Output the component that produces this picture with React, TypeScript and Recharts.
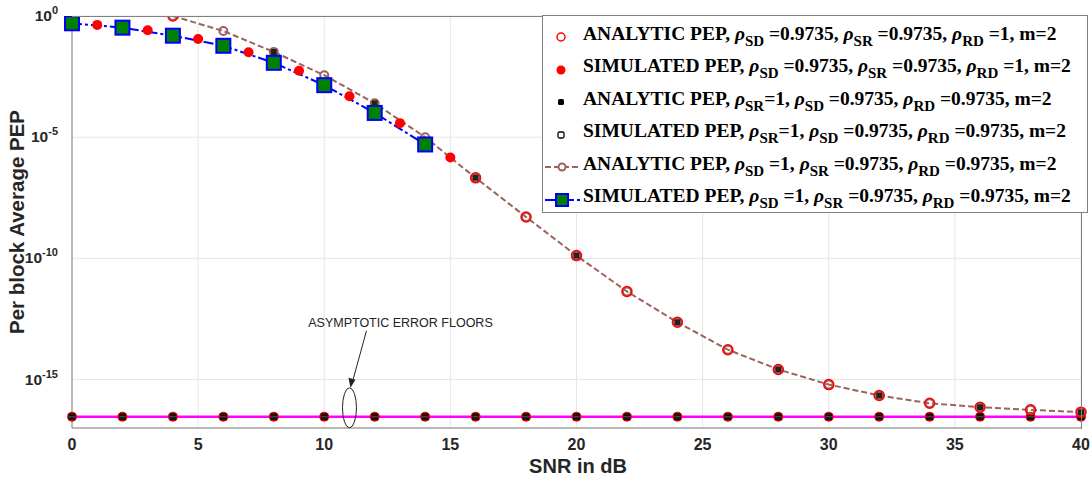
import React from 'react';
import { LineChart, Line, XAxis, YAxis, CartesianGrid, ReferenceDot } from 'recharts';

// SNR (dB) positions and PEP values
const brownSnr = [4, 6, 8, 10, 12, 14, 16, 18, 20, 22, 24, 26, 28, 30, 32, 34, 36, 38, 40];
const brownPep = [1, 0.24, 0.033, 3.6e-3, 2.5e-4, 1.0e-5, 2.1e-7, 5.1e-9, 1.3e-10, 4.3e-12, 2.3e-13, 1.7e-14, 2.6e-15, 6.2e-16, 2.2e-16, 1.05e-16, 7.2e-17, 5.6e-17, 4.5e-17];

const greenSnr = [0, 2, 4, 6, 8, 10, 12, 14];
const greenPep = [0.5, 0.33, 0.154, 0.059, 0.0117, 1.4e-3, 1.0e-4, 5.0e-6];

const redFilledSnr = [1, 3, 5, 7, 9, 11, 13, 15];
const redFilledPep = [0.43, 0.26, 0.112, 0.032, 5.5e-3, 4.9e-4, 3.8e-5, 1.45e-6];

const redOpenSnr = [4, 16, 18, 20, 22, 24, 26, 28, 30, 32, 34, 36, 38, 40];
const redOpenPep = [1, 2.1e-7, 5.1e-9, 1.3e-10, 4.3e-12, 2.3e-13, 1.7e-14, 2.6e-15, 6.2e-16, 2.2e-16, 1.05e-16, 7.2e-17, 5.6e-17, 4.5e-17];

const blackSnr = [8, 12, 16, 20, 24, 28, 32, 36, 40];
const blackPep = [0.033, 2.5e-4, 2.1e-7, 1.3e-10, 2.3e-13, 2.6e-15, 2.2e-16, 7.2e-17, 4.5e-17];

const floorSnr = [0, 2, 4, 6, 8, 10, 12, 14, 16, 18, 20, 22, 24, 26, 28, 30, 32, 34, 36, 38, 40];
const floorPep = [2.9e-17, 2.9e-17, 2.9e-17, 2.9e-17, 2.9e-17, 2.9e-17, 2.9e-17, 2.9e-17, 2.9e-17, 2.9e-17, 2.9e-17, 2.9e-17, 2.9e-17, 2.9e-17, 2.9e-17, 2.9e-17, 2.9e-17, 2.9e-17, 2.9e-17, 2.9e-17, 2.9e-17];

const xTicks = [0, 5, 10, 15, 20, 25, 30, 35, 40];
const yTicks = [1, 1e-5, 1e-10, 1e-15];

const zip = (xs: number[], ys: number[]) => xs.map((snr, i) => ({ snr, pep: ys[i] }));

const BROWN = '#9c625c';
const TICK_FONT = 'Arial, "Liberation Sans", sans-serif';
const SERIF = '"Liberation Serif", "Times New Roman", serif';

const YTick = ({ x, y, payload }: any) => {
  const exp = Math.round(Math.log10(payload.value));
  return (
    <text x={x - 6} y={y + 5} textAnchor="end" fontFamily={TICK_FONT} fontWeight="bold" fontSize={15.5} fill="#262626">
      10<tspan dy={-7} fontSize={11}>{exp}</tspan>
    </text>
  );
};

const XTick = ({ x, y, payload }: any) => (
  <text x={x} y={y + 14} textAnchor="middle" fontFamily={TICK_FONT} fontWeight="bold" fontSize={16} fill="#262626">
    {payload.value}
  </text>
);

const FloorDot = ({ cx, cy }: any) => (
  <g>
    <circle cx={cx} cy={cy} r={5} fill="#ff0000" />
    <rect x={cx - 3.5} y={cy - 3.5} width={7} height={7} fill="#111" rx={1} />
    <line x1={cx - 3} x2={cx + 3} y1={cy} y2={cy} stroke="#555" strokeWidth={1} />
  </g>
);

const BrownDot = ({ cx, cy }: any) => (
  <circle cx={cx} cy={cy} r={4} fill="none" stroke={BROWN} strokeWidth={2} />
);

const BlackSquare = ({ cx, cy }: any) => (
  <rect x={cx - 3} y={cy - 3} width={6} height={6} fill="#222" rx={1} />
);

const GreenSquare = ({ cx, cy }: any) => (
  <rect x={cx - 7} y={cy - 7} width={14} height={14} fill="#008000" stroke="#0000ff" strokeWidth={2} />
);

const Annotation = ({ cx, cy }: any) => (
  <g>
    <ellipse cx={cx} cy={cy - 9} rx={7} ry={20} fill="none" stroke="#222" strokeWidth={1} />
    <line x1={cx + 17} y1={cy - 86} x2={cx + 3} y2={cy - 35} stroke="#222" strokeWidth={1} />
    <path d={`M ${cx + 1} ${cy - 29} L ${cx - 1} ${cy - 39} L ${cx + 6} ${cy - 37} Z`} fill="#222" />
    <text x={cx + 51} y={cy - 90} textAnchor="middle" fontFamily={TICK_FONT} fontSize={12.5} fill="#222">
      ASYMPTOTIC ERROR FLOORS
    </text>
  </g>
);

const Rho = ({ sub }: { sub: string }) => (
  <span>
    <i>ρ</i>
    <sub style={{ fontSize: 15, verticalAlign: -6 }}>{sub}</sub>
  </span>
);

const legendRows: { marker: React.ReactNode; content: React.ReactNode }[] = [
  {
    marker: <circle cx={18} cy={10} r={4} fill="none" stroke="#ff0000" strokeWidth={1.5} />,
    content: <>ANALYTIC PEP, <Rho sub="SD" /> =0.9735, <Rho sub="SR" /> =0.9735, <Rho sub="RD" /> =1, m=2</>,
  },
  {
    marker: <circle cx={18} cy={10} r={4.5} fill="#ff0000" />,
    content: <>SIMULATED PEP, <Rho sub="SD" /> =0.9735, <Rho sub="SR" /> =0.9735, <Rho sub="RD" /> =1, m=2</>,
  },
  {
    marker: <rect x={15} y={7} width={6} height={6} rx={1.5} fill="#000" />,
    content: <>ANALYTIC PEP, <Rho sub="SR" />=1, <Rho sub="SD" /> =0.9735, <Rho sub="RD" /> =0.9735, m=2</>,
  },
  {
    marker: <rect x={15} y={7} width={6} height={6} rx={1.5} fill="none" stroke="#000" strokeWidth={1.3} />,
    content: <>SIMULATED PEP, <Rho sub="SR" />=1, <Rho sub="SD" /> =0.9735, <Rho sub="RD" /> =0.9735, m=2</>,
  },
  {
    marker: (
      <g>
        <line x1={2} x2={38} y1={10} y2={10} stroke={BROWN} strokeWidth={2} strokeDasharray="6 3" />
        <circle cx={19} cy={10} r={3.5} fill="#fff" stroke={BROWN} strokeWidth={2} />
      </g>
    ),
    content: <>ANALYTIC PEP, <Rho sub="SD" /> =1, <Rho sub="SR" /> =0.9735, <Rho sub="RD" /> =0.9735, m=2</>,
  },
  {
    marker: (
      <g>
        <line x1={2} x2={38} y1={10} y2={10} stroke="#0000ff" strokeWidth={2} strokeDasharray="10 3 3 3" />
        <rect x={13} y={4} width={12} height={12} fill="#008000" stroke="#0000ff" strokeWidth={2} />
      </g>
    ),
    content: <>SIMULATED PEP, <Rho sub="SD" /> =1, <Rho sub="SR" /> =0.9735, <Rho sub="RD" /> =0.9735, m=2</>,
  },
];

export default function App() {
  return (
    <div style={{ position: 'absolute', left: 0, top: 0, width: 1091, height: 479, background: '#fff' }}>
      <LineChart width={1091} height={479} margin={{ top: 16, right: 10, left: 12, bottom: 21 }}>
        <CartesianGrid stroke="#e6e6e6" strokeWidth={1} />
        <XAxis
          dataKey="snr"
          type="number"
          domain={[0, 40]}
          ticks={xTicks}
          tick={<XTick />}
          tickLine={false}
          axisLine={{ stroke: '#808080' }}
          height={30}
          allowDuplicatedCategory={false}
        />
        <YAxis
          dataKey="pep"
          scale="log"
          domain={[1e-17, 1]}
          ticks={yTicks}
          tick={<YTick />}
          tickLine={false}
          axisLine={{ stroke: '#808080' }}
          width={60}
          allowDataOverflow
        />
        <Line
          data={zip(floorSnr, floorPep)}
          dataKey="pep"
          stroke="#ff00ff"
          strokeWidth={2.5}
          dot={<FloorDot />}
          isAnimationActive={false}
        />
        <Line
          data={zip(brownSnr, brownPep)}
          dataKey="pep"
          stroke={BROWN}
          strokeWidth={2}
          strokeDasharray="6 3"
          dot={<BrownDot />}
          isAnimationActive={false}
        />
        <Line
          data={zip(greenSnr, greenPep)}
          dataKey="pep"
          stroke="#0000ff"
          strokeWidth={2}
          strokeDasharray="10 3 3 3"
          dot={<GreenSquare />}
          isAnimationActive={false}
        />
        <Line
          data={zip(redFilledSnr, redFilledPep)}
          dataKey="pep"
          stroke="none"
          dot={{ r: 5, fill: '#ff0000', stroke: 'none' }}
          isAnimationActive={false}
        />
        <Line
          data={zip(redOpenSnr, redOpenPep)}
          dataKey="pep"
          stroke="none"
          dot={{ r: 5, fill: 'none', stroke: '#ff0000', strokeWidth: 1.5 }}
          isAnimationActive={false}
        />
        <Line
          data={zip(blackSnr, blackPep)}
          dataKey="pep"
          stroke="none"
          dot={<BlackSquare />}
          isAnimationActive={false}
        />
        <ReferenceDot x={11} y={2.9e-17} r={0} shape={<Annotation />} ifOverflow="visible" />
      </LineChart>

      {/* box edges (top/right) like matlab's axes box */}
      <div style={{ position: 'absolute', left: 72, top: 16, width: 1009, height: 412, borderTop: '1px solid #808080', borderRight: '1px solid #808080', pointerEvents: 'none' }} />

      <svg width={1091} height={479} style={{ position: 'absolute', left: 0, top: 0, pointerEvents: 'none' }}>
        <text x={24} y={222} transform="rotate(-90 24 222)" textAnchor="middle" fontFamily={TICK_FONT} fontWeight="bold" fontSize={20.5} fill="#262626">
          Per block Average PEP
        </text>
        <text x={578} y={473} textAnchor="middle" fontFamily={TICK_FONT} fontWeight="bold" fontSize={20} fill="#262626">
          SNR in dB
        </text>
      </svg>

      <div
        style={{
          position: 'absolute',
          left: 542,
          top: 15,
          width: 546,
          height: 198,
          border: '1px solid #808080',
          background: '#fff',
          fontFamily: SERIF,
          fontWeight: 'bold',
          fontSize: 19.5,
          color: '#000',
          boxSizing: 'border-box',
          paddingTop: 5,
        }}
      >
        {legendRows.map((row, i) => (
          <div key={i} style={{ display: 'flex', alignItems: 'center', height: 32.5, whiteSpace: 'nowrap' }}>
            <svg width={40} height={20} style={{ flex: 'none' }}>
              {row.marker}
            </svg>
            <span style={{ lineHeight: '20px' }}>{row.content}</span>
          </div>
        ))}
      </div>
    </div>
  );
}
